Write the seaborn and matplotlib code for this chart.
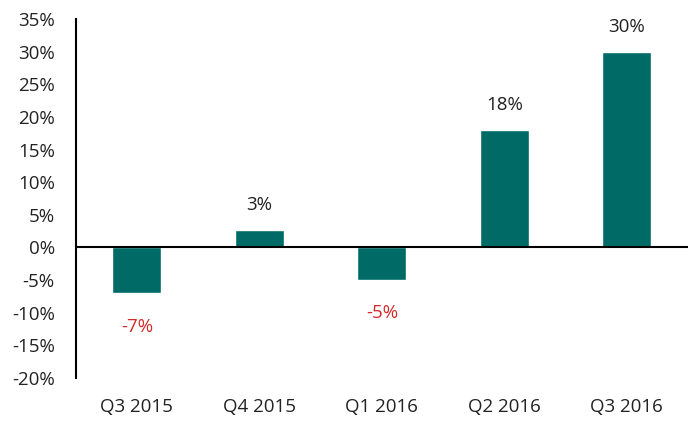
import pandas as pd
import numpy as np
import matplotlib.pyplot as plt
import seaborn as sns

quarters = ['Q3 2015', 'Q4 2015', 'Q1 2016', 'Q2 2016', 'Q3 2016']
growth = [-7.0, 2.6, -5.0, 18.0, 30.0]
bar_labels = ['-7%', '3%', '-5%', '18%', '30%']

df = pd.DataFrame({'quarter': quarters, 'growth': growth})

sns.set_style('white')
plt.rcParams['font.family'] = ['Open Sans', 'DejaVu Sans']

fig = plt.figure(figsize=(6.88, 4.21), dpi=100)
ax = fig.add_axes([0.110, 0.102, 0.890, 0.853])

sns.barplot(x='quarter', y='growth', data=df, color='#006B66', width=0.4,
            saturation=1, ax=ax)

ax.axhline(0, color='black', linewidth=1.5, zorder=3)
ax.set_ylim(-20, 35)
ax.set_xlim(-0.5, 4.5)
ax.set_yticks(np.arange(-20, 36, 5))
ax.set_yticklabels([f'{t}%' for t in range(-20, 36, 5)], fontsize=13.5, color='#222222')
ax.tick_params(axis='x', labelsize=13.5, labelcolor='#222222', pad=14, length=0)
ax.tick_params(axis='y', length=0, pad=15)
ax.set_xlabel('')
ax.set_ylabel('')

for s in ['top', 'right', 'bottom']:
    ax.spines[s].set_visible(False)
ax.spines['left'].set_color('black')
ax.spines['left'].set_linewidth(1.5)

for i, (v, lab) in enumerate(zip(growth, bar_labels)):
    if v >= 0:
        ax.annotate(lab, (i, v), xytext=(0, 18), textcoords='offset points',
                    ha='center', va='center', fontsize=13.5, color='#222222')
    else:
        ax.annotate(lab, (i, v), xytext=(0, -24), textcoords='offset points',
                    ha='center', va='center', fontsize=13.5, color='#D42A2A')

plt.savefig('out.png', dpi=100)
